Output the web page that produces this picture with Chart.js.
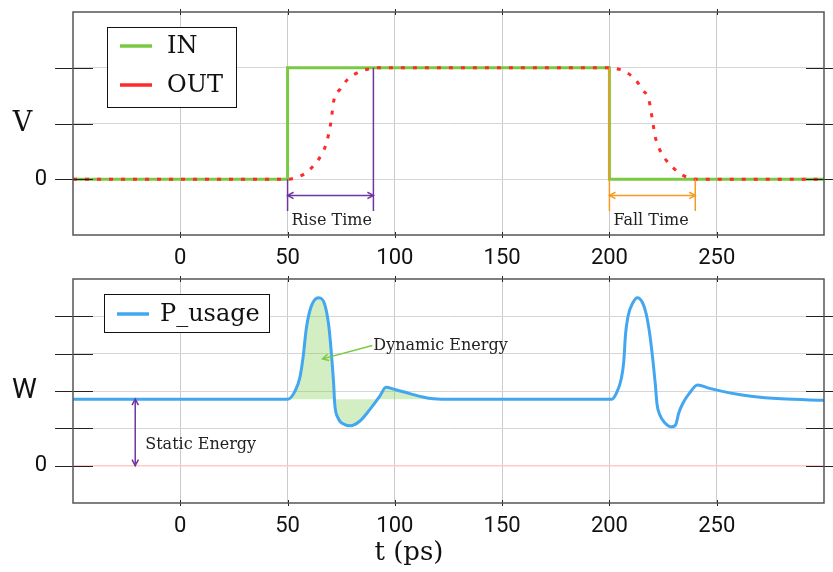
<!DOCTYPE html>
<html>
<head>
<meta charset="utf-8">
<script src="https://cdn.jsdelivr.net/npm/chart.js@4.4.0/dist/chart.umd.min.js"></script>
<style>
  html, body { margin: 0; padding: 0; background: #fff; }
  #wrap { position: relative; width: 833px; height: 572px; }
  #topBox { position: absolute; left: 0; top: 0; width: 833px; height: 270px; }
  #botBox { position: absolute; left: 0; top: 270px; width: 833px; height: 302px; }
</style>
</head>
<body>
<div id="wrap">
  <div id="topBox"><canvas id="voltChart"></canvas></div>
  <div id="botBox"><canvas id="powerChart"></canvas></div>
</div>
<script>
// --- data ---
const inTime = [-50, 50, 50, 200, 200, 300];
const inVolt = [0, 0, 2, 2, 0, 0];

const outTime = [-50, 50, 54, 58, 62, 65.8, 68.1, 70.1, 71.6, 74.6, 78.2, 83.6, 89, 90,
                 200, 202, 207, 212.2, 215.6, 218.4, 220.3, 221.3, 223.1, 225.7, 229.6, 234.3, 238.9, 240, 300];
const outVolt = [0, 0, 0.03, 0.1, 0.24, 0.44, 0.65, 1.0, 1.42, 1.62, 1.8, 1.93, 1.99, 2,
                 2, 1.99, 1.94, 1.78, 1.6, 1.42, 1.0, 0.77, 0.56, 0.38, 0.21, 0.07, 0.01, 0, 0];

const pTime = [-50, 50.2, 53.4, 55.7, 57.2, 58.8, 61.1, 64.5, 67.3, 69.3, 70.7, 71.5, 72.0, 73.5, 76.7, 79.3,
               83.6, 88.3, 93.0, 95.8, 100, 107, 113, 118, 122,
               201.1, 203.3, 205.6, 206.7, 207.5, 208.7, 211, 213, 215.4, 217.2, 218.8, 220.3, 221.4, 222.2,
               223.4, 225.8, 228.9, 230.9, 232.3, 234.3, 237.4, 241, 246.7, 256, 266, 280, 300];
const pWatt = [1.78, 1.78, 1.99, 2.35, 2.89, 3.7, 4.28, 4.5, 4.32, 3.7, 2.8, 2.17, 1.64, 1.28, 1.1, 1.07,
               1.19, 1.5, 1.86, 2.1, 2.04, 1.93, 1.84, 1.79, 1.78,
               1.78, 1.95, 2.35, 2.8, 3.52, 4.01, 4.37, 4.5, 4.37, 4.05, 3.52, 2.8, 2.17, 1.64,
               1.37, 1.15, 1.04, 1.1, 1.41, 1.68, 1.95, 2.16, 2.07, 1.95, 1.86, 1.79, 1.75];

const timeTicks = [0, 50, 100, 150, 200, 250];
const voltTicks = [0, 1, 2];
const wattTicks = [0, 1, 2, 3, 4];

const staticPower = 1.78;
const dynStart = 50, dynEnd = 122;
const riseStart = 50, riseEnd = 90;
const fallStart = 200, fallEnd = 240;

// --- colours ---
const GREEN = '#7ac943';
const RED = '#ff2a2a';
const BLUE = '#42a7f0';
const PURPLE = '#6f35a0';
const ORANGE = '#f59a23';
const FILL = 'rgba(122, 201, 67, 0.32)';
const GRID = '#d6d6d6';
const ZERO = '#ffcaca';
const SERIF = '"DejaVu Serif", serif';

const toPoints = (xs, ys) => xs.map((x, i) => ({ x: x, y: ys[i] }));

// frame, tick marks, axis titles, legend box, annotations
const decorPlugin = {
  id: 'decor',
  afterDatasetsDraw(chart, args, opts) {
    const { ctx, chartArea: a, scales } = chart;
    const sx = v => scales.x.getPixelForValue(v);
    const sy = v => scales.y.getPixelForValue(v);
    const line = (x1, y1, x2, y2) => { ctx.beginPath(); ctx.moveTo(x1, y1); ctx.lineTo(x2, y2); ctx.stroke(); };
    const head = (x, y, dx, dy) => {
      // small open arrow head pointing in (dx, dy)
      const s = 6, w = 3.2;
      ctx.beginPath();
      ctx.moveTo(x - dx * s - dy * w, y - dy * s + dx * w);
      ctx.lineTo(x, y);
      ctx.lineTo(x - dx * s + dy * w, y - dy * s - dx * w);
      ctx.stroke();
    };
    ctx.save();

    // annotations
    (opts.notes || []).forEach(n => {
      ctx.strokeStyle = n.color;
      ctx.fillStyle = n.color;
      ctx.lineWidth = 1.5;
      if (n.type === 'vline') {
        line(sx(n.x), sy(n.y1), sx(n.x), sy(n.y2));
      } else if (n.type === 'arrow2') {
        const x1 = sx(n.x1), y1 = sy(n.y1), x2 = sx(n.x2), y2 = sy(n.y2);
        const len = Math.hypot(x2 - x1, y2 - y1), dx = (x2 - x1) / len, dy = (y2 - y1) / len;
        line(x1, y1, x2, y2);
        head(x2, y2, dx, dy);
        head(x1, y1, -dx, -dy);
      } else if (n.type === 'arrow') {
        const x1 = sx(n.x1), y1 = sy(n.y1), x2 = sx(n.x2), y2 = sy(n.y2);
        const len = Math.hypot(x2 - x1, y2 - y1), dx = (x2 - x1) / len, dy = (y2 - y1) / len;
        line(x1, y1, x2, y2);
        head(x2, y2, dx, dy);
      } else if (n.type === 'text') {
        ctx.fillStyle = '#222';
        ctx.font = '16px ' + SERIF;
        ctx.textAlign = 'left';
        ctx.textBaseline = 'middle';
        ctx.fillText(n.text, sx(n.x) + (n.dx || 0), sy(n.y));
      }
    });

    // tick marks across the frame
    ctx.strokeStyle = '#222';
    ctx.lineWidth = 1;
    scales.y.ticks.forEach(t => {
      const py = Math.round(sy(t.value)) + 0.5;
      line(a.left - 18, py, a.left + 20, py);
      line(a.right - 18, py, a.right + 18, py);
    });
    scales.x.ticks.forEach(t => {
      const px = Math.round(sx(t.value)) + 0.5;
      line(px, a.top - 3, px, a.top + 3);
      line(px, a.bottom - 3, px, a.bottom + 3);
    });
    ctx.strokeStyle = '#555';
    ctx.lineWidth = 1.5;
    ctx.strokeRect(a.left, a.top, a.right - a.left, a.bottom - a.top);

    // legend box
    const lg = opts.legend;
    ctx.fillStyle = '#fff';
    ctx.fillRect(a.left + lg.x, a.top + lg.y, lg.w, lg.h);
    ctx.strokeStyle = '#111';
    ctx.lineWidth = 1;
    ctx.strokeRect(a.left + lg.x + 0.5, a.top + lg.y + 0.5, lg.w, lg.h);
    ctx.font = '24px ' + SERIF;
    ctx.textAlign = 'left';
    ctx.textBaseline = 'middle';
    lg.items.forEach((it, i) => {
      const ds = chart.data.datasets[it];
      const cy = a.top + lg.y + lg.first + i * lg.step;
      const x0 = a.left + lg.x + 13;
      ctx.strokeStyle = ds.borderColor;
      ctx.lineWidth = 3.5;
      line(x0, cy, x0 + 32, cy);
      ctx.fillStyle = '#111';
      ctx.fillText(ds.label, x0 + lg.gap, cy + 1);
    });

    // axis titles
    (opts.titles || []).forEach(t => {
      ctx.font = t.font;
      ctx.fillStyle = '#111';
      ctx.textAlign = 'center';
      ctx.textBaseline = 'middle';
      ctx.fillText(t.text, t.x === undefined ? (a.left + a.right) / 2 : t.x, t.y === undefined ? (a.top + a.bottom) / 2 : t.y);
    });
    ctx.restore();
  }
};

function baseScales(yMin, yMax, yTicks, xHeight, zeroColor) {
  return {
    x: {
      type: 'linear', min: -50, max: 300,
      afterBuildTicks: s => { s.ticks = timeTicks.map(v => ({ value: v })); },
      afterFit: s => { s.height = xHeight; s.paddingLeft = 0; s.paddingRight = 0; },
      grid: { color: '#cbcbcb', lineWidth: 1, drawTicks: false },
      border: { display: false },
      ticks: { padding: 10, color: '#111', font: { family: 'Roboto', size: 22 } }
    },
    y: {
      type: 'linear', min: yMin, max: yMax,
      afterBuildTicks: s => { s.ticks = yTicks.map(v => ({ value: v })); },
      afterFit: s => { s.width = 73; s.paddingTop = 0; s.paddingBottom = 0; },
      grid: { color: c => (c.tick && c.tick.value === 0 && zeroColor) ? zeroColor : GRID,
              lineWidth: c => (c.tick && c.tick.value === 0 && zeroColor) ? 1.5 : 1, drawTicks: false },
      border: { display: false },
      ticks: { padding: 26, color: '#111', font: { family: 'Roboto', size: 22 },
               callback: v => v === 0 ? '0' : '' }
    }
  };
}

new Chart(document.getElementById('voltChart'), {
  type: 'line',
  data: {
    datasets: [
      { label: 'IN', data: toPoints(inTime, inVolt), borderColor: GREEN, borderWidth: 3,
        pointRadius: 0, tension: 0, order: 2 },
      { label: 'OUT', data: toPoints(outTime, outVolt), borderColor: RED, borderWidth: 3,
        borderDash: [4, 8], pointRadius: 0, cubicInterpolationMode: 'monotone', order: 1 }
    ]
  },
  options: {
    responsive: true, maintainAspectRatio: false, animation: false,
    layout: { padding: { top: 12, right: 9, left: 0, bottom: 0 } },
    scales: baseScales(-1, 3, voltTicks, 35, null),
    plugins: {
      legend: { display: false }, tooltip: { enabled: false },
      decor: {
        legend: { x: 34, y: 15, w: 129, h: 80, first: 19, step: 39, gap: 47, items: [0, 1] },
        titles: [{ text: 'V', x: 22.5, font: '27px ' + SERIF }],
        notes: [
          { type: 'vline', x: riseStart, y1: 0, y2: -0.57, color: PURPLE },
          { type: 'vline', x: riseEnd, y1: 2, y2: -0.57, color: PURPLE },
          { type: 'arrow2', x1: riseStart, y1: -0.29, x2: riseEnd, y2: -0.29, color: PURPLE },
          { type: 'text', text: 'Rise Time', x: riseStart, dx: 4, y: -0.75 },
          { type: 'vline', x: fallStart, y1: 2, y2: -0.57, color: ORANGE },
          { type: 'vline', x: fallEnd, y1: 0, y2: -0.57, color: ORANGE },
          { type: 'arrow2', x1: fallStart, y1: -0.29, x2: fallEnd, y2: -0.29, color: ORANGE },
          { type: 'text', text: 'Fall Time', x: fallStart, dx: 4, y: -0.75 }
        ]
      }
    }
  },
  plugins: [decorPlugin]
});

new Chart(document.getElementById('powerChart'), {
  type: 'line',
  data: {
    datasets: [
      { label: 'P_usage', data: toPoints(pTime, pWatt), borderColor: BLUE, borderWidth: 3,
        pointRadius: 0, cubicInterpolationMode: 'monotone', order: 1 },
      { label: 'Dynamic', data: toPoints(pTime, pWatt).filter(p => p.x >= dynStart && p.x <= dynEnd),
        borderWidth: 0, borderColor: 'rgba(0,0,0,0)', backgroundColor: FILL,
        fill: { value: staticPower }, pointRadius: 0, cubicInterpolationMode: 'monotone', order: 2 }
    ]
  },
  options: {
    responsive: true, maintainAspectRatio: false, animation: false,
    layout: { padding: { top: 9, right: 9, left: 0, bottom: 0 } },
    scales: baseScales(-1, 5, wattTicks, 69, ZERO),
    plugins: {
      legend: { display: false }, tooltip: { enabled: false },
      decor: {
        legend: { x: 31, y: 15, w: 165, h: 38, first: 20, step: 0, gap: 43, items: [0] },
        titles: [
          { text: 'W', x: 24.5, font: '28px Roboto' },
          { text: 't (ps)', x: 409, y: 283, font: '26px ' + SERIF }
        ],
        notes: [
          { type: 'arrow2', x1: -21, y1: 0, x2: -21, y2: staticPower, color: PURPLE },
          { type: 'text', text: 'Static Energy', x: -21, dx: 10, y: 0.56 },
          { type: 'arrow', x1: 89.5, y1: 3.22, x2: 66.3, y2: 2.86, color: GREEN },
          { type: 'text', text: 'Dynamic Energy', x: 89.5, dx: 1, y: 3.22 }
        ]
      }
    }
  },
  plugins: [decorPlugin]
});
</script>
</body>
</html>
